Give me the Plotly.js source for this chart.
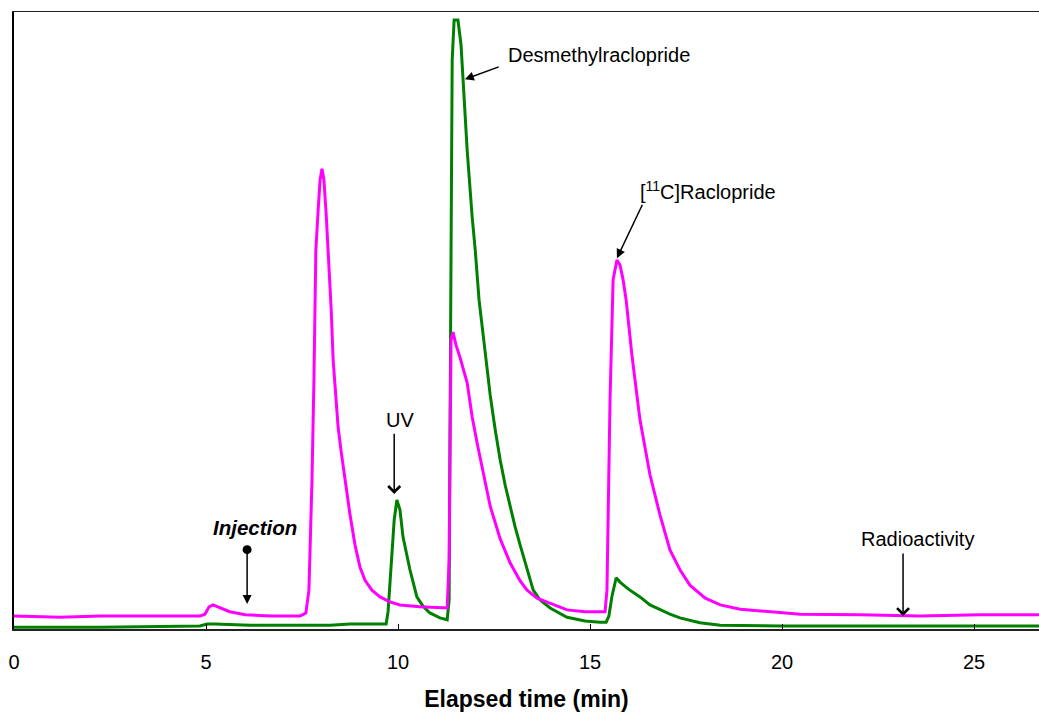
<!DOCTYPE html>
<html>
<head>
<meta charset="utf-8">
<script src="https://cdn.plot.ly/plotly-3.0.1.min.js"></script>
<style>html,body{margin:0;padding:0;background:#fff}#chart{width:1039px;height:712px}</style>
</head>
<body>
<div id="chart"></div>
<script>
// Radioactivity trace (magenta): elapsed time (min) and detector signal (arbitrary units)
const radioTime = [0.00,1.20,2.24,3.54,4.84,4.97,5.08,5.18,5.36,5.62,
  6.02,6.67,7.45,7.60,7.68,7.76,7.81,7.86,7.92,7.97,
  8.02,8.07,8.13,8.20,8.26,8.31,8.39,8.44,8.52,8.62,
  8.75,8.88,9.01,9.14,9.32,9.53,9.79,10.05,10.57,11.28,
  11.33,11.38,11.43,11.51,11.61,11.80,11.93,12.06,12.21,12.40,
  12.66,12.92,13.18,13.36,13.62,13.96,14.40,14.87,15.39,15.44,
  15.52,15.60,15.70,15.78,15.86,15.94,16.09,16.30,16.56,16.82,
  17.08,17.34,17.60,18.00,18.39,18.91,19.69,20.47,22.03,23.59,
  25.16,26.69];
const radioSignal = [2.1,1.9,2.1,2.1,2.1,2.4,3.6,3.9,3.4,2.8,
  2.3,2.1,2.1,2.6,6.3,24.3,40.4,61.4,67.9,72.8,
  74.6,72.8,67.1,59.0,51.7,43.6,37.1,32.7,28.7,24.1,
  18.5,13.6,10.0,7.9,6.3,5.2,4.4,3.9,3.6,3.4,
  11.2,46.8,48.1,46.0,44.1,39.9,34.4,30.1,25.4,19.9,
  14.6,10.7,7.8,6.3,5.0,4.2,3.1,2.8,2.8,6.3,
  37.1,56.6,59.8,59.0,56.6,53.3,44.4,33.9,25.0,18.5,
  12.8,9.6,7.1,5.0,3.9,3.2,2.8,2.4,2.3,2.1,
  2.3,2.3];

// UV trace (green)
const uvTime = [0.00,2.24,4.84,5.03,5.23,6.15,7.45,8.23,8.75,9.69,
  9.74,9.82,9.90,9.97,10.05,10.13,10.21,10.31,10.49,10.65,
  10.83,11.09,11.28,11.33,11.35,11.38,11.41,11.46,11.56,11.64,
  11.72,11.80,11.93,12.01,12.11,12.27,12.40,12.53,12.66,12.79,
  12.92,13.05,13.18,13.36,13.52,13.70,13.96,14.40,14.87,15.26,
  15.42,15.49,15.57,15.68,15.78,15.99,16.30,16.56,16.82,17.08,
  17.34,17.86,18.39,19.95,23.07,26.69];
const uvSignal = [0.3,0.3,0.5,0.8,0.8,0.6,0.6,0.6,0.8,0.8,
  2.8,9.6,17.7,20.9,19.3,14.9,12.3,9.6,5.2,3.7,
  2.6,1.8,1.5,4.7,29.0,69.5,92.2,98.7,98.7,94.7,
  85.7,77.6,66.8,61.4,53.3,44.4,37.9,32.3,27.4,23.3,
  19.8,16.5,13.6,9.6,6.3,4.7,3.4,1.9,1.3,1.1,
  1.1,2.1,5.3,8.3,7.6,6.5,5.2,3.9,3.1,2.4,
  1.8,1.0,0.6,0.5,0.5,0.5];

const xTicks = [0,5,10,15,20,25];
const xTickLabels = ['0','5','10','15','20','25'];
const xTitle = 'Elapsed time (min)';

const FONT = 'Liberation Sans, Arial, sans-serif';

const traces = [
  {x: uvTime, y: uvSignal, type: 'scatter', mode: 'lines', name: 'UV',
   line: {color: '#008000', width: 3}, hoverinfo: 'skip'},
  {x: radioTime, y: radioSignal, type: 'scatter', mode: 'lines', name: 'Radioactivity',
   line: {color: '#ff00ff', width: 3}, hoverinfo: 'skip'}
];

function arrow(x, y, ax, ay, head, size, extra) {
  return Object.assign({x: x, y: y, ax: ax, ay: ay, xref: 'x', yref: 'y', axref: 'x', ayref: 'y',
    text: '', showarrow: true, arrowhead: head, arrowsize: size, arrowwidth: 1.5, arrowcolor: '#000', standoff: 0}, extra || {});
}
function label(x, y, text, xanchor, extra) {
  return Object.assign({x: x, y: y, xref: 'x', yref: 'y', text: text, showarrow: false,
    xanchor: xanchor, yanchor: 'middle', font: {family: FONT, size: 20, color: '#000'}}, extra || {});
}

const annotations = [
  label(6.28, 16.5, '<b><i>Injection</i></b>', 'center', {font: {family: FONT, size: 20.5, color: '#000'}}),
  arrow(6.07, 4.05, 6.07, 13.1, 2, 1.2, {arrowside: 'end+start', startarrowhead: 6, startarrowsize: 1.5}),
  label(10.04, 33.9, 'UV', 'center'),
  arrow(9.90, 21.9, 9.90, 31.9, 4, 1.55),
  label(12.81, 93.1, 'Desmethylraclopride', 'left'),
  arrow(11.74, 89.1, 12.66, 91.2, 2, 1.2),
  label(16.25, 71.0, '[<sup>11</sup>C]Raclopride', 'left'),
  arrow(15.70, 60.1, 16.38, 69.0, 2, 1.2),
  label(23.52, 14.6, 'Radioactivity', 'center'),
  arrow(23.15, 2.1, 23.15, 12.5, 4, 1.55)
];

const layout = {
  width: 1039, height: 712,
  margin: {l: 14, r: 0, t: 12, b: 83},
  paper_bgcolor: '#fff', plot_bgcolor: '#fff',
  showlegend: false,
  font: {family: FONT, color: '#000'},
  xaxis: {
    range: [0, 26.69], tickvals: xTicks, ticktext: xTickLabels,
    ticks: 'inside', ticklen: 5, tickwidth: 1, tickcolor: '#000',
    ticklabelstandoff: 14,
    tickfont: {family: FONT, size: 20, color: '#000'},
    showline: true, linecolor: '#222', linewidth: 1.5, mirror: true,
    showgrid: false, zeroline: false,
    title: {text: '<b>' + xTitle + '</b>', font: {family: FONT, size: 23, color: '#000'}, standoff: 24}
  },
  yaxis: {
    range: [0, 100], showticklabels: false, ticks: '',
    showline: true, linecolor: '#000', linewidth: 2,
    showgrid: false, zeroline: false
  },
  annotations: annotations
};

Plotly.newPlot('chart', traces, layout, {staticPlot: true, displayModeBar: false});
</script>
</body>
</html>
